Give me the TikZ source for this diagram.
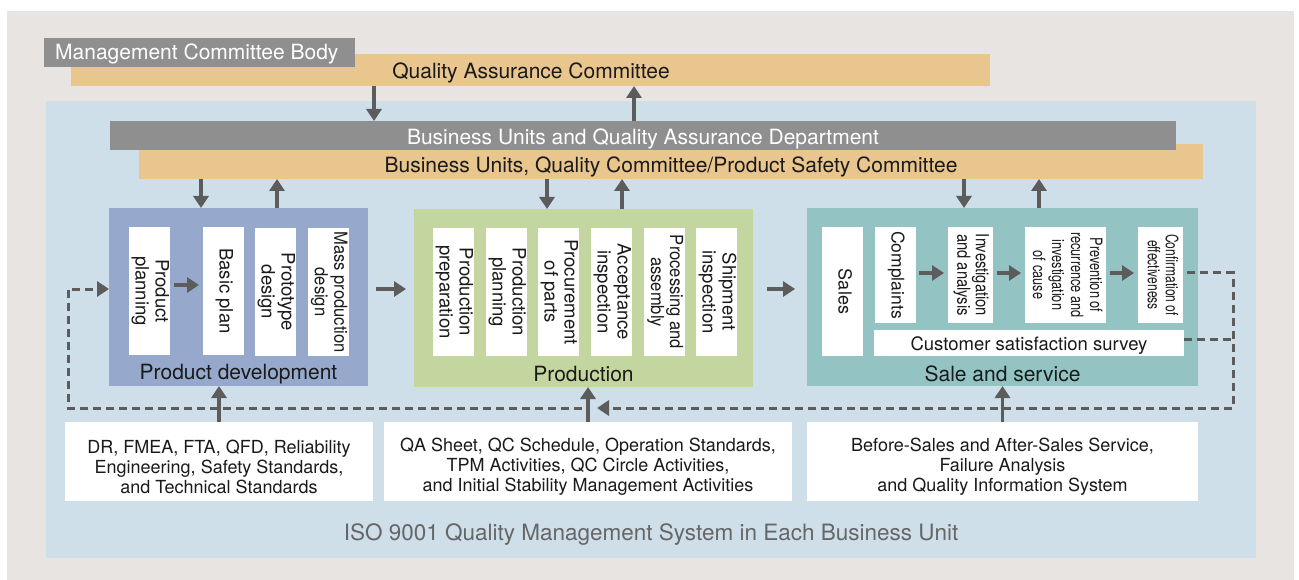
\documentclass[tikz,border=0pt]{standalone}
\usepackage{fontspec}
\setmainfont{TeX Gyre Heros}
\newfontfamily\cnA[FakeStretch=0.92]{TeX Gyre Heros}
\newfontfamily\cnB[FakeStretch=0.82]{TeX Gyre Heros}
\newfontfamily\cnC[FakeStretch=0.75]{TeX Gyre Heros}
\newfontfamily\cnD[FakeStretch=0.71]{TeX Gyre Heros}
\usetikzlibrary{arrows.meta}
\definecolor{bgouter}{HTML}{E8E4E1}
\definecolor{panel}{HTML}{CEDFEA}
\definecolor{barg}{HTML}{8F8F8F}
\definecolor{baro}{HTML}{EAC68F}
\definecolor{pdc}{HTML}{96A9CD}
\definecolor{prc}{HTML}{C4D6A0}
\definecolor{ssc}{HTML}{93C4C3}
\definecolor{arrc}{HTML}{5C5C5C}
\definecolor{txt}{HTML}{1A1A1A}
\definecolor{isoc}{HTML}{666666}
\newcommand\vt[1]{\rotatebox{-90}{\begin{tabular}{@{}c@{}}#1\end{tabular}}}
\tikzset{
  blk/.style={anchor=north west, inner sep=0pt, outer sep=0pt},
  col/.style={blk, fill=white, text=txt, font=\fontsize{18.5}{20}\selectfont},
  lbl/.style={inner sep=0pt, text=txt, font=\fontsize{21}{25}\selectfont},
  wlbl/.style={inner sep=0pt, text=white, font=\fontsize{21}{25}\selectfont},
  btxt/.style={blk, fill=white, text=txt, align=center, font=\fontsize{18}{20}\selectfont},
  arr/.style={color=arrc, line width=3.2pt, -{Triangle[width=15pt,length=12pt]}},
  dashln/.style={color=arrc, line width=3pt, dash pattern=on 8pt off 5pt}
}
\begin{document}
\begin{tikzpicture}[x=1pt,y=-1pt]
\path[use as bounding box] (0,0) rectangle (1299,580);
\fill[bgouter] (7,11) rectangle (1294,580);
\fill[panel] (46,101) rectangle (1256,558);

% top committees
\node[blk, fill=baro, minimum width=919pt, minimum height=32pt] (qa) at (71,54) {};
\node[lbl] (qat) at (531,72.5) {Quality Assurance Committee};
\node[blk, fill=barg, minimum width=311pt, minimum height=29pt] (mgmt) at (44,38) {};
\node[wlbl, anchor=west] (mgmtt) at (55,54) {Management Committee Body};

\node[blk, fill=baro, minimum width=1064pt, minimum height=35pt] (bus2) at (139,144) {};
\node[blk, fill=barg, minimum width=1066pt, minimum height=29pt] (bus1) at (110,121) {};
\node[wlbl] (bus1t) at (643,138.5) {Business Units and Quality Assurance Department};
\node[lbl] (bus2t) at (671,167) {Business Units, Quality Committee/Product Safety Committee};

% helper coordinates
\coordinate (xa) at (374,0);
\coordinate (xb) at (634,0);
\coordinate (x1) at (201,0);
\coordinate (x2) at (277,0);
\coordinate (x3) at (547,0);
\coordinate (x4) at (622,0);
\coordinate (x5) at (964,0);
\coordinate (x6) at (1039,0);
\coordinate (yM) at (0,289);
\coordinate (yP) at (0,285);
\coordinate (yS) at (0,273);
\coordinate (yC) at (0,339);
\coordinate (yL) at (0,408);
\coordinate (xL) at (68,0);
\coordinate (xR) at (1233,0);
\coordinate (tipP) at (597,408);
\coordinate (startL) at (582,408);

\draw[arr] (qa.south -| xa) -- (bus1.north -| xa);
\draw[arr] (bus1.north -| xb) -- (qa.south -| xb);

% stage boxes
\node[blk, fill=pdc, minimum width=259pt, minimum height=178pt] (pd) at (109,208) {};
\node[blk, fill=prc, minimum width=339pt, minimum height=178pt] (prod) at (414,209) {};
\node[blk, fill=ssc, minimum width=391pt, minimum height=178pt] (sale) at (807,208) {};

\node[lbl] (pdl) at (238.5,374) {Product development};
\node[lbl] (prodl) at (583.5,374) {Production};
\node[lbl] (salel) at (1002.5,374) {Sale and service};

% product development columns
\node[col, minimum width=41pt, minimum height=128pt] (pp) at (129,227) {\vt{Product\\planning}};
\node[col, minimum width=41pt, minimum height=128pt] (bp) at (203,227) {\vt{Basic plan}};
\node[col, minimum width=41pt, minimum height=128pt] (pt) at (255,228) {\vt{Prototype\\design}};
\node[col, minimum width=41pt, minimum height=128pt, font=\cnA\fontsize{18}{19.5}\selectfont] (mp) at (308,228) {\vt{Mass production\\design}};

% production columns
\node[col, minimum width=41pt, minimum height=128pt] (c1) at (433,228) {\vt{Production\\preparation}};
\node[col, minimum width=41pt, minimum height=128pt] (c2) at (486,228) {\vt{Production\\planning}};
\node[col, minimum width=41pt, minimum height=128pt] (c3) at (538,228) {\vt{Procurement\\of parts}};
\node[col, minimum width=41pt, minimum height=128pt] (c4) at (591,228) {\vt{Acceptance\\inspection}};
\node[col, minimum width=41pt, minimum height=128pt, font=\cnA\fontsize{18}{19}\selectfont] (c5) at (644,228) {\vt{Processing and\\assembly}};
\node[col, minimum width=41pt, minimum height=128pt] (c6) at (696,228) {\vt{Shipment\\inspection}};

% sale and service columns
\node[col, minimum width=41pt, minimum height=129pt, font=\fontsize{18}{20}\selectfont] (sales) at (822,227) {\vt{Sales}};
\node[col, minimum width=41pt, minimum height=96pt, font=\fontsize{17.5}{20}\selectfont] (comp) at (875,227) {\vt{Complaints}};
\node[col, minimum width=45pt, minimum height=96pt, font=\cnB\fontsize{18}{18}\selectfont] (inv) at (948,227) {\vt{Investigation\\and analysis}};
\node[col, minimum width=81pt, minimum height=96pt, font=\cnC\fontsize{17}{19}\selectfont] (prev) at (1025,227) {\vt{Prevention of\\recurrence and\\investigation\\of cause}};
\node[col, minimum width=45pt, minimum height=96pt, font=\cnD\fontsize{17}{18}\selectfont] (conf) at (1138,227) {\vt{Confirmation of\\effectiveness}};
\node[col, minimum width=310pt, minimum height=26pt, text depth=0pt] (css) at (874,330) {\raisebox{-2pt}{Customer satisfaction survey}};

% bottom boxes
\node[btxt, minimum width=308pt, minimum height=79pt] (bl) at (65,422) {};
\node[btxt, minimum width=408pt, minimum height=79pt] (bm) at (384,422) {};
\node[btxt, minimum width=391pt, minimum height=79pt] (br) at (807,422) {};
\node[btxt, anchor=center] (blt) at (219,466.5) {DR, FMEA, FTA, QFD, Reliability\\Engineering, Safety Standards,\\and Technical Standards};
\node[btxt, anchor=center] (bmt) at (588,466.5) {QA Sheet, QC Schedule, Operation Standards,\\TPM Activities, QC Circle Activities,\\and Initial Stability Management Activities};
\node[btxt, anchor=center] (brt) at (1002.5,466.5) {Before-Sales and After-Sales Service,\\Failure Analysis\\and Quality Information System};

\node[inner sep=0pt, text=isoc, font=\fontsize{22.5}{26}\selectfont] (iso) at (651,534.5) {ISO 9001 Quality Management System in Each Business Unit};

% arrows between bars and stages
\draw[arr] (bus2.south -| x1) -- (pd.north -| x1);
\draw[arr] (pd.north -| x2) -- (bus2.south -| x2);
\draw[arr] (bus2.south -| x3) -- (prod.north -| x3);
\draw[arr] (prod.north -| x4) -- (bus2.south -| x4);
\draw[arr] (bus2.south -| x5) -- (sale.north -| x5);
\draw[arr] (sale.north -| x6) -- (bus2.south -| x6);

% stage to stage
\draw[arr, shorten <=8pt, shorten >=8pt] (pd.east |- yM) -- (prod.west |- yM);
\draw[arr, shorten <=14pt, shorten >=12pt] (prod.east |- yM) -- (sale.west |- yM);

% inner arrows
\draw[arr, shorten <=4pt, shorten >=4pt] (pp.east |- yP) -- (bp.west |- yP);
\draw[arr, shorten <=3pt, shorten >=4pt] (comp.east |- yS) -- (inv.west |- yS);
\draw[arr, shorten <=4pt, shorten >=4pt] (inv.east |- yS) -- (prev.west |- yS);
\draw[arr, shorten <=4pt, shorten >=4pt] (prev.east |- yS) -- (conf.west |- yS);

% bottom boxes to stages
\draw[arr] (bl.north) -- (pd.south -| bl.north);
\draw[arr] (bm.north) -- (prod.south -| bm.north);
\draw[arr] (br.north) -- (sale.south -| br.north);

% feedback loop
\draw[dashln, -{Triangle[width=15pt,length=12pt]}] ([xshift=4pt]conf.east |- yS) -- (xR |- yS) -- (xR |- yL) -- (tipP);
\draw[dashln] (css.east |- yC) -- (xR |- yC);
\draw[dashln, -{Triangle[width=15pt,length=12pt]}] (startL) -- (xL |- yL) -- (xL |- yM) -- (pd.west |- yM);
\end{tikzpicture}
\end{document}
